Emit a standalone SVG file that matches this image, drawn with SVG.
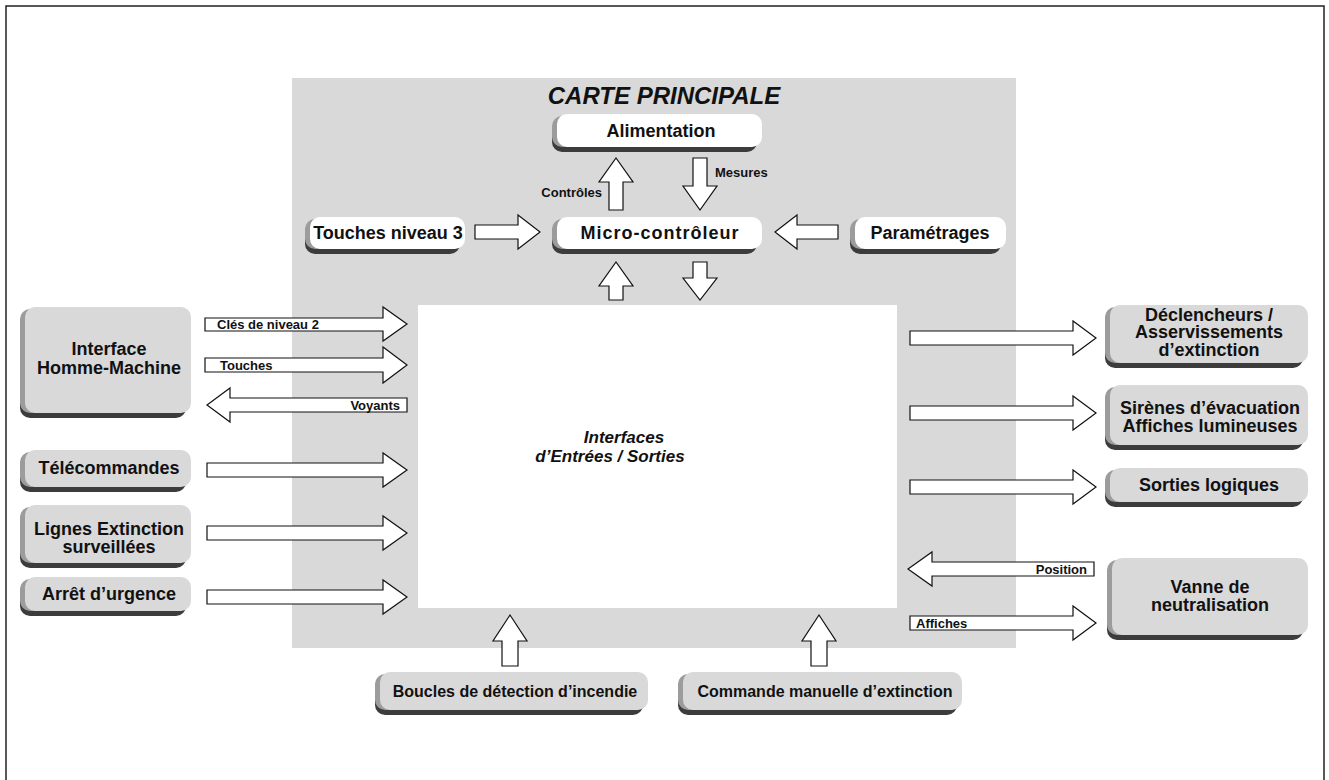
<svg xmlns="http://www.w3.org/2000/svg" width="1329" height="780" viewBox="0 0 1329 780">
<defs>
<style>
.dk{fill:#3c3c3c}
.md{fill:#9c9c9c}
.fw{fill:#ffffff}
.fg{fill:#d9d9d9}
.t{font-family:"Liberation Sans",Arial,sans-serif;font-weight:bold;font-size:18px;fill:#111;text-anchor:middle}
.ts{font-size:16px}
.ti{font-family:"Liberation Sans",Arial,sans-serif;font-weight:bold;font-style:italic;fill:#111;text-anchor:middle}
.lb{font-family:"Liberation Sans",Arial,sans-serif;font-weight:bold;font-size:13px;fill:#111}
.ar{fill:#ffffff;stroke:#111;stroke-width:1.2;stroke-linejoin:miter}
</style>
</defs>
<rect x="0" y="0" width="1329" height="780" fill="#ffffff"/>
<rect x="6" y="6" width="1318" height="790" fill="none" stroke="#222" stroke-width="1.5"/>
<g id="carte">
<rect x="292" y="78" width="724" height="570" fill="#d9d9d9"/>
<text class="ti" x="664" y="104" style="font-size:24px">CARTE PRINCIPALE</text>
</g>
<g id="interfaces-es">
<rect x="418" y="305" width="479" height="303" fill="#ffffff"/>
<text class="ti" x="624" y="443" style="font-size:17px">Interfaces</text>
<text class="ti" x="610" y="462" style="font-size:17px">d’Entrées / Sorties</text>
</g>
<g id="alimentation">
<rect class="dk" x="552" y="119" width="205" height="33" rx="10"/>
<rect class="md" x="552" y="116" width="30" height="31" rx="10"/>
<rect class="fw" x="557" y="114" width="205" height="33" rx="10"/>
<text class="t" x="661" y="137">Alimentation</text>
</g>
<g id="micro-controleur">
<rect class="dk" x="552" y="222" width="205" height="32" rx="10"/>
<rect class="md" x="552" y="219" width="30" height="30" rx="10"/>
<rect class="fw" x="557" y="217" width="205" height="32" rx="10"/>
<text class="t" x="660" y="239" style="letter-spacing:1px">Micro-contrôleur</text>
</g>
<g id="touches-niveau-3">
<rect class="dk" x="305" y="222" width="155" height="32" rx="10"/>
<rect class="md" x="305" y="219" width="30" height="30" rx="10"/>
<rect class="fw" x="310" y="217" width="155" height="32" rx="10"/>
<text class="t" x="388" y="239">Touches niveau 3</text>
</g>
<g id="parametrages">
<rect class="dk" x="850" y="222" width="151" height="32" rx="10"/>
<rect class="md" x="850" y="219" width="30" height="30" rx="10"/>
<rect class="fw" x="855" y="217" width="151" height="32" rx="10"/>
<text class="t" x="930" y="239">Paramétrages</text>
</g>
<g id="ihm">
<rect class="dk" x="20" y="312" width="166" height="106" rx="10"/>
<rect class="md" x="20" y="309" width="30" height="104" rx="10"/>
<rect class="fg" x="25" y="307" width="166" height="106" rx="10"/>
<text class="t" x="109" y="355">Interface</text>
<text class="t" x="109" y="374">Homme-Machine</text>
</g>
<g id="telecommandes">
<rect class="dk" x="20" y="455" width="166" height="37" rx="10"/>
<rect class="md" x="20" y="452" width="30" height="35" rx="10"/>
<rect class="fg" x="25" y="450" width="166" height="37" rx="10"/>
<text class="t" x="109" y="474">Télécommandes</text>
</g>
<g id="lignes-extinction">
<rect class="dk" x="20" y="510" width="166" height="58" rx="10"/>
<rect class="md" x="20" y="507" width="30" height="56" rx="10"/>
<rect class="fg" x="25" y="505" width="166" height="58" rx="10"/>
<text class="t" x="109" y="535">Lignes Extinction</text>
<text class="t" x="109" y="553">surveillées</text>
</g>
<g id="arret-urgence">
<rect class="dk" x="20" y="582" width="166" height="34" rx="10"/>
<rect class="md" x="20" y="579" width="30" height="32" rx="10"/>
<rect class="fg" x="25" y="577" width="166" height="34" rx="10"/>
<text class="t" x="109" y="600">Arrêt d’urgence</text>
</g>
<g id="declencheurs">
<rect class="dk" x="1105" y="310" width="198" height="58" rx="10"/>
<rect class="md" x="1105" y="307" width="30" height="56" rx="10"/>
<rect class="fg" x="1110" y="305" width="198" height="58" rx="10"/>
<text class="t" x="1209" y="321">Déclencheurs /</text>
<text class="t" x="1209" y="338">Asservissements</text>
<text class="t" x="1209" y="356">d’extinction</text>
</g>
<g id="sirenes">
<rect class="dk" x="1105" y="390" width="198" height="60" rx="10"/>
<rect class="md" x="1105" y="387" width="30" height="58" rx="10"/>
<rect class="fg" x="1110" y="385" width="198" height="60" rx="10"/>
<text class="t" x="1210" y="414">Sirènes d’évacuation</text>
<text class="t" x="1210" y="432">Affiches lumineuses</text>
</g>
<g id="sorties-logiques">
<rect class="dk" x="1105" y="473" width="198" height="34" rx="10"/>
<rect class="md" x="1105" y="470" width="30" height="32" rx="10"/>
<rect class="fg" x="1110" y="468" width="198" height="34" rx="10"/>
<text class="t" x="1209" y="491">Sorties logiques</text>
</g>
<g id="vanne">
<rect class="dk" x="1107" y="563" width="196" height="77" rx="10"/>
<rect class="md" x="1107" y="560" width="30" height="75" rx="10"/>
<rect class="fg" x="1112" y="558" width="196" height="77" rx="10"/>
<text class="t" x="1210" y="593">Vanne de</text>
<text class="t" x="1210" y="611">neutralisation</text>
</g>
<g id="boucles">
<rect class="dk" x="375" y="677" width="268" height="38" rx="10"/>
<rect class="md" x="375" y="674" width="30" height="36" rx="10"/>
<rect class="fg" x="380" y="672" width="268" height="38" rx="10"/>
<text class="t ts" x="515" y="697">Boucles de détection d’incendie</text>
</g>
<g id="commande-manuelle">
<rect class="dk" x="678" y="677" width="279" height="38" rx="10"/>
<rect class="md" x="678" y="674" width="30" height="36" rx="10"/>
<rect class="fg" x="683" y="672" width="279" height="38" rx="10"/>
<text class="t ts" x="825" y="697">Commande manuelle d’extinction</text>
</g>
<g id="connectors">
<polygon class="ar" points="609,210 609,182 599,182 616,158 633,182 623,182 623,210"/>
<polygon class="ar" points="693,158 707,158 707,186 717,186 700,210 683,186 693,186"/>
<polygon class="ar" points="475,225 518,225 518,215 540,232 518,249 518,239 475,239"/>
<polygon class="ar" points="838,225 797,225 797,215 775,232 797,249 797,239 838,239"/>
<polygon class="ar" points="609,300 609,286 599,286 616,262 633,286 623,286 623,300"/>
<polygon class="ar" points="693,262 707,262 707,278 717,278 700,300 683,278 693,278"/>
<polygon class="ar" points="205,318 383,318 383,307 407,324 383,341 383,331 205,331"/>
<polygon class="ar" points="205,358 383,358 383,347 407,365 383,383 383,372 205,372"/>
<polygon class="ar" points="407,398 230,398 230,388 207,405 230,422 230,412 407,412"/>
<polygon class="ar" points="207,463 383,463 383,453 407,470 383,487 383,477 207,477"/>
<polygon class="ar" points="207,526 383,526 383,516 407,533 383,550 383,540 207,540"/>
<polygon class="ar" points="207,590 383,590 383,580 407,597 383,614 383,604 207,604"/>
<polygon class="ar" points="910,331 1073,331 1073,321 1096,338 1073,355 1073,345 910,345"/>
<polygon class="ar" points="910,406 1073,406 1073,396 1096,413 1073,430 1073,420 910,420"/>
<polygon class="ar" points="910,480 1073,480 1073,470 1096,487 1073,504 1073,494 910,494"/>
<polygon class="ar" points="1094,562 932,562 932,552 908,569 932,586 932,576 1094,576"/>
<polygon class="ar" points="910,616 1073,616 1073,606 1096,623 1073,640 1073,630 910,630"/>
<polygon class="ar" points="502,666 502,641 493,641 510,615 527,641 518,641 518,666"/>
<polygon class="ar" points="811,666 811,641 802,641 819,615 836,641 827,641 827,666"/>
<text class="lb" x="602" y="197" text-anchor="end">Contrôles</text>
<text class="lb" x="715" y="177">Mesures</text>
<text class="lb" x="217" y="329">Clés de niveau 2</text>
<text class="lb" x="220" y="370">Touches</text>
<text class="lb" x="400" y="410" text-anchor="end">Voyants</text>
<text class="lb" x="1087" y="574" text-anchor="end">Position</text>
<text class="lb" x="916" y="628">Affiches</text>
</g>
</svg>
